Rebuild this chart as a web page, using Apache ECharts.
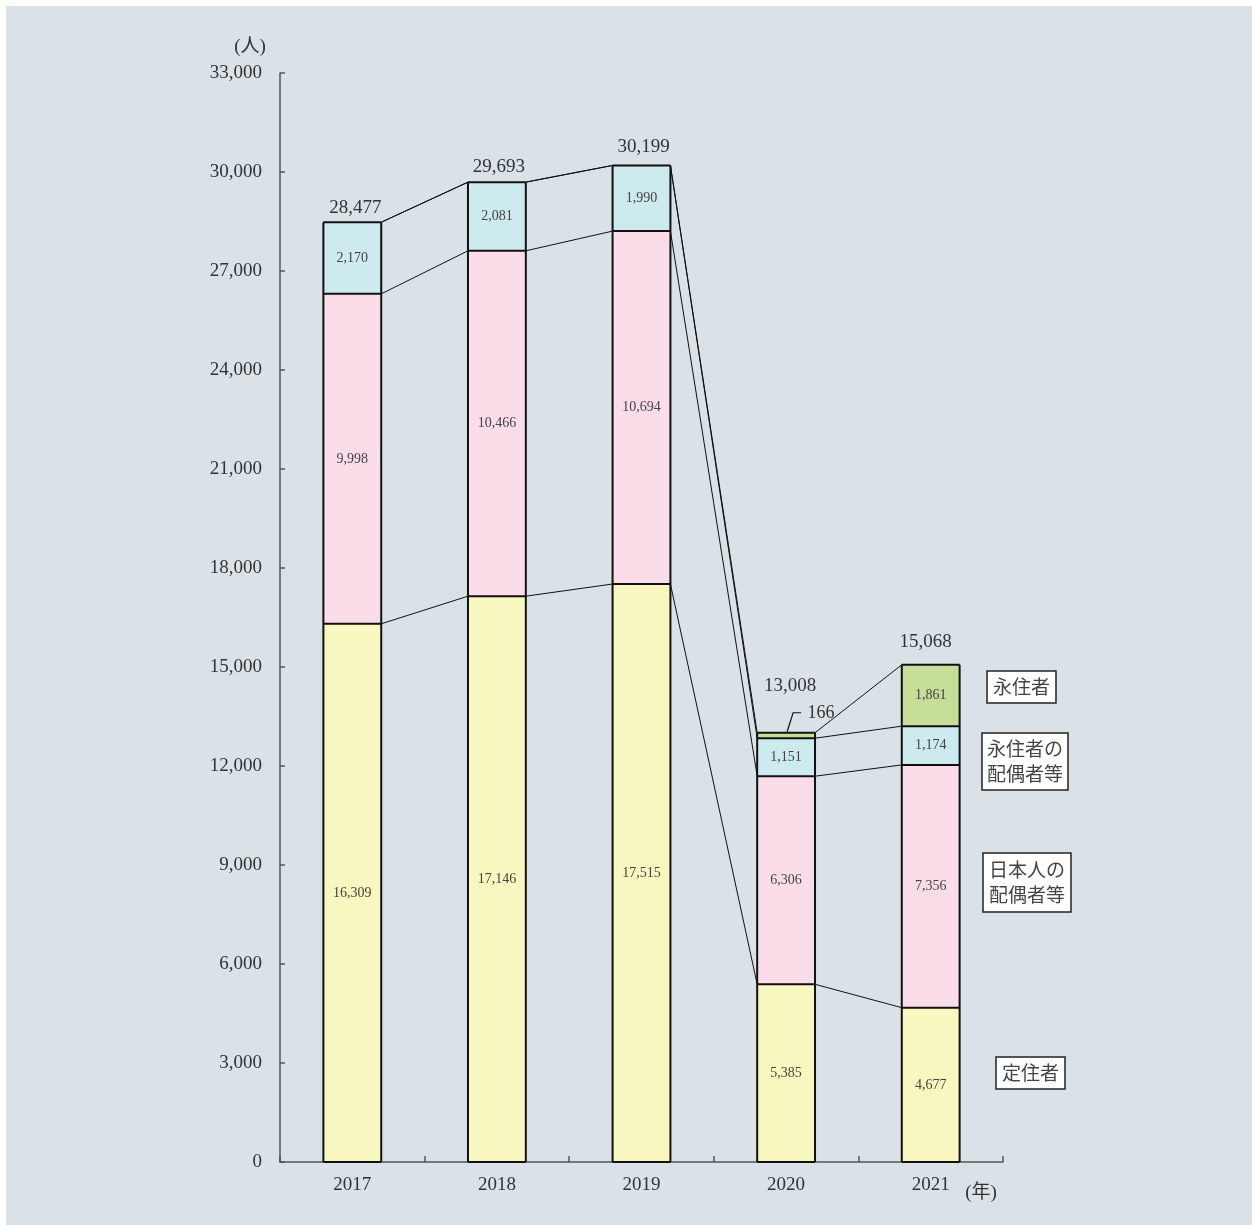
<!DOCTYPE html>
<html>
<head>
<meta charset="utf-8">
<style>
html,body{margin:0;padding:0;background:#ffffff;}
#chart{position:absolute;left:6px;top:6px;width:1246px;height:1219px;}
</style>
<script src="https://cdn.jsdelivr.net/npm/echarts@6/dist/echarts.min.js"></script>
</head>
<body>
<div id="chart"></div>
<script>
// ---- data ----
const categories = ['2017', '2018', '2019', '2020', '2021'];
const teijusha = [16309, 17146, 17515, 5385, 4677];            // 定住者
const nihonjinHaigusha = [9998, 10466, 10694, 6306, 7356];      // 日本人の配偶者等
const eijushaHaigusha = [2170, 2081, 1990, 1151, 1174];         // 永住者の配偶者等
const eijusha = [null, null, null, 166, 1861];                  // 永住者
const totals = [28477, 29693, 30199, 13008, 15068];
const yMin = 0, yMax = 33000, yInterval = 3000;

// ---- styles ----
const NUM_FONT = '"Liberation Serif", "Noto Sans CJK JP", serif';
const JP_FONT = '"Noto Sans CJK JP", sans-serif';
const colors = ['#f8f7bf', '#fadde8', '#cdeaee', '#c6de97'];
const totalOffsets = [[3, 14], [2, 15], [2, 18], [4, 47], [-5, 23]];
const BAR_RATIO = 0.4;

const fmt = v => (v == null ? '' : Number(v).toLocaleString('en-US'));
const stacks = [teijusha, nihonjinHaigusha, eijushaHaigusha, eijusha];
const names = ['定住者', '日本人の配偶者等', '永住者の配偶者等', '永住者'];

function cum(level, i) {
  let s = 0;
  for (let k = 0; k <= level; k++) s += (stacks[k][i] || 0);
  return s;
}

const barSeries = stacks.map((arr, k) => ({
  name: names[k],
  type: 'bar',
  stack: 'total',
  barWidth: (BAR_RATIO * 100) + '%',
  z: 3,
  itemStyle: { color: colors[k], borderWidth: 0 },
  label: {
    show: true,
    position: 'inside',
    fontFamily: NUM_FONT,
    fontSize: 14,
    color: '#444',
    formatter: p => (k === 3 && p.dataIndex === 3) ? '' : fmt(p.value)
  },
  data: arr.slice()
}));

// outlines of bars and segment separators
const outlineSeries = {
  type: 'custom',
  z: 4,
  silent: true,
  data: categories.map((c, i) => [i, 0]),
  renderItem: function (params, api) {
    const i = api.value(0);
    const bw = api.size([1, 0])[0] * BAR_RATIO;
    const base = api.coord([i, 0]);
    const x0 = base[0] - bw / 2, x1 = base[0] + bw / 2;
    const children = [];
    let prev = 0;
    for (let k = 0; k < 4; k++) {
      const c = cum(k, i);
      if (c > prev) {
        const y = api.coord([i, c])[1];
        children.push({
          type: 'line',
          shape: { x1: x0, y1: y, x2: x1, y2: y },
          style: { stroke: '#111', lineWidth: 2 }
        });
      }
      prev = c;
    }
    const top = api.coord([i, cum(3, i)])[1];
    children.push({ type: 'line', shape: { x1: x0, y1: top, x2: x0, y2: base[1] }, style: { stroke: '#111', lineWidth: 2 } });
    children.push({ type: 'line', shape: { x1: x1, y1: top, x2: x1, y2: base[1] }, style: { stroke: '#111', lineWidth: 2 } });
    children.push({ type: 'line', shape: { x1: x0, y1: base[1], x2: x1, y2: base[1] }, style: { stroke: '#111', lineWidth: 2 } });
    return { type: 'group', children: children };
  }
};

const connectorSeries = {
  type: 'custom',
  z: 2,
  silent: true,
  data: [[0, 0], [1, 0], [2, 0], [3, 0]],
  renderItem: function (params, api) {
    const i = api.value(0);
    const bw = api.size([1, 0])[0] * BAR_RATIO;
    const children = [];
    for (let k = 0; k < 4; k++) {
      const a = api.coord([i, cum(k, i)]);
      const b = api.coord([i + 1, cum(k, i + 1)]);
      children.push({
        type: 'line',
        shape: { x1: a[0] + bw / 2, y1: a[1], x2: b[0] - bw / 2, y2: b[1] },
        style: { stroke: '#111', lineWidth: 1 }
      });
    }
    return { type: 'group', children: children };
  }
};

const totalSeries = {
  type: 'custom',
  z: 5,
  silent: true,
  data: totals.map((t, i) => [i, t]),
  renderItem: function (params, api) {
    const i = api.value(0);
    const p = api.coord([i, api.value(1)]);
    const off = totalOffsets[i];
    const children = [{
      type: 'text',
      style: {
        text: fmt(api.value(1)),
        x: p[0] + off[0], y: p[1] - off[1],
        align: 'center', verticalAlign: 'middle',
        font: '19px ' + NUM_FONT, fill: '#333'
      }
    }];
    if (i === 3) {
      // leader for 永住者 166 in 2020
      const top = api.coord([i, cum(3, i)]);
      children.push({
        type: 'polyline',
        shape: { points: [[top[0] + 1, top[1] - 1], [top[0] + 7, top[1] - 20], [top[0] + 15, top[1] - 20]] },
        style: { stroke: '#111', lineWidth: 1.2, fill: null }
      });
      children.push({
        type: 'text',
        style: {
          text: fmt(eijusha[i]),
          x: top[0] + 35, y: top[1] - 19,
          align: 'center', verticalAlign: 'middle',
          font: '18px ' + NUM_FONT, fill: '#333'
        }
      });
    }
    return { type: 'group', children: children };
  }
};

function legendBox(x, y, w, h, text) {
  return {
    type: 'group',
    children: [
      { type: 'rect', shape: { x: x, y: y, width: w, height: h },
        style: { fill: '#ffffff', stroke: '#222', lineWidth: 1.5 } },
      { type: 'text', style: {
          text: text, x: x + w / 2, y: y + h / 2,
          align: 'center', verticalAlign: 'middle',
          font: '19px ' + JP_FONT, fill: '#444', lineHeight: 25 } }
    ]
  };
}

const option = {
  backgroundColor: '#dae1e7',
  animation: false,
  grid: { left: 274, right: 249, top: 67, bottom: 63 },
  xAxis: {
    type: 'category',
    data: categories,
    axisLine: { lineStyle: { color: '#555', width: 1.5 } },
    axisTick: { show: true, inside: true, length: 6, lineStyle: { color: '#555', width: 1.5 } },
    axisLabel: { fontFamily: NUM_FONT, fontSize: 19, color: '#333', margin: 14 }
  },
  yAxis: {
    type: 'value',
    min: yMin, max: yMax, interval: yInterval,
    splitLine: { show: false },
    axisLine: { show: true, lineStyle: { color: '#555', width: 1.5 } },
    axisTick: { show: true, inside: true, length: 5, lineStyle: { color: '#555', width: 1.5 } },
    axisLabel: { fontFamily: NUM_FONT, fontSize: 19, color: '#333', margin: 18, formatter: v => fmt(v) }
  },
  graphic: [
    { type: 'text', style: { text: '(人)', x: 244, y: 41, align: 'center', verticalAlign: 'middle',
        font: '19px ' + NUM_FONT, fill: '#333' } },
    { type: 'text', style: { text: '(年)', x: 975, y: 1187, align: 'center', verticalAlign: 'middle',
        font: '19px ' + NUM_FONT, fill: '#333' } },
    legendBox(981, 665, 69, 32, '永住者'),
    legendBox(976, 727, 86, 57, '永住者の\n配偶者等'),
    legendBox(977, 847, 88, 59, '日本人の\n配偶者等'),
    legendBox(990, 1051, 69, 32, '定住者')
  ],
  series: barSeries.concat([connectorSeries, outlineSeries, totalSeries])
};

const chart = echarts.init(document.getElementById('chart'), null, { renderer: 'canvas' });
chart.setOption(option);
</script>
</body>
</html>
